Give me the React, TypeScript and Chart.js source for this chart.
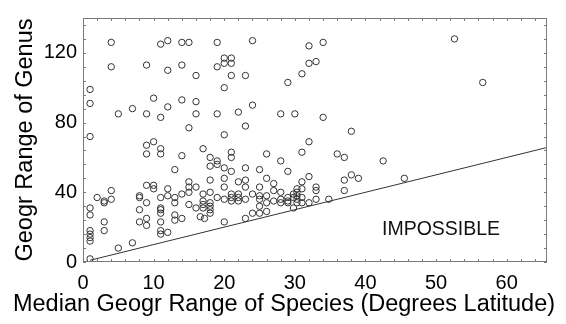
import React, { useEffect, useRef } from "react";
import { Chart, registerables } from "chart.js";

Chart.register(...registerables);

// Median geographic range of species (x) vs geographic range of genus (y)
const speciesRange = [
  4, 11, 12, 14, 15, 19, 24, 32, 34, 52.6,
  4, 9, 12, 14, 16, 19, 20, 20, 21, 21, 21, 23, 31, 29, 32, 33, 56.6,
  20, 1, 1, 10, 12, 14, 16, 7, 5, 9, 11, 16, 19, 22, 24, 28, 30, 34,
  15, 23, 38, 20, 1, 9, 10, 32,
  9, 11, 11, 14, 17, 18, 18, 19, 19, 20, 21, 21, 21, 13, 20, 18, 26, 28, 31, 36, 37, 42.5, 23, 25, 29, 32, 38, 39, 37, 45.5,
  9, 10, 10, 12, 15, 15, 15, 16, 14, 13, 13, 12, 11, 8, 8, 9, 8, 11, 11, 11, 13, 13, 14, 15, 16, 17, 17, 17, 17, 18, 18, 18, 18, 18, 19, 20, 20, 21, 21, 21, 22, 22, 22, 22, 16.6, 17.2, 8, 9, 9, 11, 11, 11, 12, 20,
  1, 1, 1, 1, 1, 1, 2, 3, 3, 4, 4, 3, 3, 5, 7, 1,
  23, 23, 26, 25, 27, 27, 28, 31, 31, 30.3, 33, 33, 37, 24, 25, 25, 26, 23, 25, 25, 26, 26, 24, 23, 27, 28, 28, 29, 29, 29, 29.8, 29.8, 30.3, 30.3, 30.3, 30.3, 29.8, 31, 31, 32, 33, 34.8,
];
const genusRange = [
  126, 125, 127, 126, 126, 126, 127, 124, 126, 128,
  112, 113, 110, 113, 107, 112, 117, 114, 117, 114, 107, 107, 108, 103, 114, 115, 103,
  100, 99, 91, 94, 89, 93, 92, 88, 85, 85, 83, 85, 85, 86, 90, 85, 85, 83,
  77, 78, 75, 73, 72, 67, 69, 69,
  62, 65, 62, 61, 65, 60, 55, 58, 56, 54, 63, 60, 52, 53, 48, 47, 62, 58, 63, 62, 60, 58, 54, 53, 52, 49, 50, 48, 47, 48,
  44, 44, 42, 42, 46, 43, 40, 43, 39, 37, 34, 38, 37, 38, 37, 34, 30, 31, 30, 28, 27, 24, 25, 33, 31, 39, 35, 33, 31, 40, 34, 32, 30, 28, 37, 43, 36, 39, 37, 35, 46, 39, 37, 35, 26, 25, 23, 25, 21, 23, 18, 16, 17, 23,
  31, 27, 18, 16, 14, 12, 37, 35, 34, 41, 36, 23, 18, 8, 11, 1.8,
  47, 43, 48, 43, 45, 41, 40, 46, 42, 42, 43, 41, 41, 39, 38, 36, 38, 36, 32, 28, 34, 29, 28, 25, 35, 36, 34, 37, 35, 34, 39, 37, 40, 38, 36, 34, 31, 37, 34, 34, 36, 36,
];

// Boundary of the impossible region: genus range = species range
const boundaryX = [1, 65.7];
const boundaryY = [1, 65.7];

const xTickLabels = [0, 10, 20, 30, 40, 50, 60];
const yTickLabels = [0, 40, 80, 120];
const xMinorStep = 2;
const yMinorStep = 8;
const X_MIN = 0;
const X_MAX = 65.7;
const Y_MIN = 0;
const Y_MAX = 140;

const xTitle = "Median Geogr Range of Species (Degrees Latitude)";
const yTitle = "Geogr Range of Genus";
const regionLabel = "IMPOSSIBLE";
const regionLabelPos = { x: 50.7, y: 15.4 };

const FONT = "'Liberation Sans', Arial, Helvetica, sans-serif";

const framePlugin = {
  id: "frameAndNotes",
  afterDatasetsDraw(chart: any) {
    const { ctx, chartArea: a, scales } = chart;
    const xs = scales.x;
    const ys = scales.y;
    ctx.save();
    // frame
    ctx.strokeStyle = "#7a7a7a";
    ctx.lineWidth = 1;
    ctx.strokeRect(a.left + 0.5, a.top + 0.5, a.right - a.left - 1, a.bottom - a.top - 1);
    // inward ticks
    const tl = 3;
    ctx.beginPath();
    for (let v = X_MIN; v <= X_MAX + 1e-9; v += xMinorStep) {
      const px = Math.round(xs.getPixelForValue(v)) + 0.5;
      ctx.moveTo(px, a.bottom);
      ctx.lineTo(px, a.bottom - tl);
      ctx.moveTo(px, a.top);
      ctx.lineTo(px, a.top + tl);
    }
    for (let v = Y_MIN; v <= Y_MAX + 1e-9; v += yMinorStep) {
      const py = Math.round(ys.getPixelForValue(v)) + 0.5;
      ctx.moveTo(a.left, py);
      ctx.lineTo(a.left + tl, py);
      ctx.moveTo(a.right, py);
      ctx.lineTo(a.right - tl, py);
    }
    ctx.stroke();

    // region label
    ctx.fillStyle = "#111";
    ctx.font = `19.5px ${FONT}`;
    ctx.textAlign = "center";
    ctx.textBaseline = "alphabetic";
    ctx.fillText(regionLabel, xs.getPixelForValue(regionLabelPos.x), ys.getPixelForValue(regionLabelPos.y));

    // axis titles
    ctx.font = `23.5px ${FONT}`;
    ctx.fillStyle = "#000";
    ctx.textAlign = "center";
    ctx.fillText(xTitle, 284, 311);
    ctx.save();
    ctx.translate(32, (a.top + a.bottom) / 2);
    ctx.rotate(-Math.PI / 2);
    ctx.fillText(yTitle, 0, 0);
    ctx.restore();
    ctx.restore();
  },
};

export default function App() {
  const ref = useRef<HTMLCanvasElement>(null);
  useEffect(() => {
    const points = speciesRange.map((x, i) => ({ x, y: genusRange[i] }));
    const boundary = boundaryX.map((x, i) => ({ x, y: boundaryY[i] }));
    const chart = new Chart(ref.current as HTMLCanvasElement, {
      type: "scatter",
      data: {
        datasets: [
          {
            type: "line",
            data: boundary,
            borderColor: "#333",
            borderWidth: 1,
            pointRadius: 0,
            showLine: true,
            fill: false,
          } as any,
          {
            data: points,
            pointStyle: "circle",
            pointRadius: 3.2,
            pointBorderWidth: 1,
            borderColor: "#333",
            backgroundColor: "rgba(0,0,0,0)",
          } as any,
        ],
      },
      options: {
        responsive: false,
        animation: false,
        devicePixelRatio: 1,
        layout: { padding: { left: 0, right: 19, top: 7, bottom: 0 } },
        plugins: { legend: { display: false }, tooltip: { enabled: false } },
        scales: {
          x: {
            type: "linear",
            min: X_MIN,
            max: X_MAX,
            grid: { display: false, drawTicks: false },
            border: { display: false },
            afterBuildTicks: (s: any) => {
              s.ticks = xTickLabels.map((v) => ({ value: v }));
            },
            afterFit: (s: any) => {
              s.height = 62;
            },
            ticks: {
              padding: 9,
              color: "#000",
              font: { family: FONT, size: 20 },
              maxRotation: 0,
            },
          },
          y: {
            type: "linear",
            min: Y_MIN,
            max: Y_MAX,
            grid: { display: false, drawTicks: false },
            border: { display: false },
            afterBuildTicks: (s: any) => {
              s.ticks = yTickLabels.map((v) => ({ value: v }));
            },
            afterFit: (s: any) => {
              s.width = 83;
            },
            ticks: {
              padding: 6,
              color: "#000",
              font: { family: FONT, size: 20 },
            },
          },
        },
      } as any,
      plugins: [framePlugin],
    });
    return () => chart.destroy();
  }, []);
  return (
    <div style={{ position: "absolute", left: 0, top: 0, width: 566, height: 324, background: "#fff" }}>
      <canvas ref={ref} width={566} height={324} style={{ display: "block", width: 566, height: 324 }} />
    </div>
  );
}
